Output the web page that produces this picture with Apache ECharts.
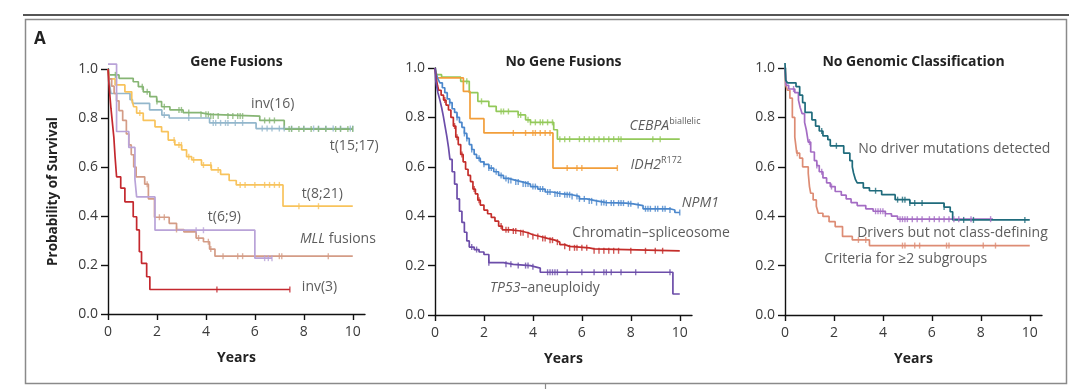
<!DOCTYPE html>
<html><head><meta charset="utf-8">
<script src="https://cdn.jsdelivr.net/npm/echarts@6/dist/echarts.min.js"></script>
<style>html,body{margin:0;padding:0;background:#fff}#c{width:1080px;height:389px}</style>
</head><body><div id="c"></div>
<script>
// ---------- tick labels ----------
const xTicks = [0, 2, 4, 6, 8, 10];
const yTicks = [0, 0.2, 0.4, 0.6, 0.8, 1.0];
const panelTitles = ['Gene Fusions', 'No Gene Fusions', 'No Genomic Classification'];

// ---------- Panel 1: Gene Fusions (step curves [years, survival]) ----------
const inv16 = [[0,1],[0.04,0.976],[0.45,0.962],[1.03,0.948],[1.24,0.928],[1.44,0.907],[1.71,0.887],[1.99,0.867],[2.19,0.846],[2.53,0.833],[3.07,0.822],[3.76,0.815],[4.16,0.808],[6.2,0.79],[7.2,0.755],[10,0.755]];
const inv16Cens = [0.3,1.4,1.6,2.0,2.3,2.9,3.0,3.3,3.8,4.0,4.1,4.2,4.3,4.5,4.9,5.1,5.3,5.4,5.5,6.4,6.6,6.8,7.4,7.5,7.8,8.0,8.3,8.6,8.9,9.3,9.5,9.8,10];
const t1517 = [[0,1],[0.05,0.95],[0.12,0.9],[0.9,0.875],[1.0,0.86],[1.7,0.833],[2.2,0.812],[2.5,0.8],[4.15,0.78],[6.05,0.757],[10,0.757]];
const t1517Cens = [2.3,3.3,4.3,4.4,4.6,4.8,4.9,5.2,5.5,6.3,6.5,6.7,7.0,7.2,7.5,8.0,8.4,8.6,8.9,9.2,9.5,9.9,10];
const t821 = [[0,1],[0.05,0.96],[0.29,0.935],[0.69,0.907],[0.97,0.875],[1.05,0.846],[1.17,0.82],[1.44,0.79],[1.92,0.764],[2.19,0.744],[2.46,0.71],[2.73,0.69],[3.01,0.67],[3.21,0.642],[3.42,0.629],[3.82,0.608],[4.22,0.588],[4.6,0.57],[4.95,0.545],[5.24,0.527],[7.15,0.44],[10,0.44]];
const t821Cens = [1.3,2.7,2.9,3.0,3.3,3.5,3.9,4.2,4.5,5.4,5.6,6.0,6.4,6.6,6.8,7.0,7.8,8.6];
const t69 = [[0,1.02],[0.35,0.745],[0.85,0.68],[1.1,0.55],[1.17,0.478],[1.92,0.342],[6.0,0.228],[6.7,0.228]];
const t69Cens = [3.6,3.9,6.4,6.55,6.7];
const mll = [[0,1],[0.05,0.96],[0.15,0.93],[0.25,0.9],[0.35,0.87],[0.45,0.83],[0.6,0.79],[0.75,0.735],[0.85,0.69],[0.95,0.65],[1.05,0.6],[1.15,0.56],[1.5,0.53],[1.65,0.47],[1.9,0.395],[2.5,0.37],[2.8,0.345],[3.1,0.335],[3.6,0.31],[3.9,0.295],[4.15,0.265],[4.37,0.236],[10,0.236]];
const mllCens = [1.6,2.1,2.3,2.8,3.7,4.1,4.2,4.7,5.3,5.5,7.0,7.1,9.0];
const inv3 = [[0,1],[0.03,0.95],[0.07,0.9],[0.12,0.84],[0.18,0.78],[0.24,0.72],[0.29,0.64],[0.35,0.56],[0.52,0.514],[0.69,0.458],[1.03,0.397],[1.17,0.343],[1.28,0.254],[1.37,0.207],[1.58,0.152],[1.71,0.1],[7.43,0.1]];
const inv3Cens = [4.45,7.43];

// ---------- Panel 2: No Gene Fusions ----------
const cebpa = [[0,1],[0.05,0.973],[0.27,0.963],[1.05,0.946],[1.4,0.9],[1.75,0.865],[2.2,0.845],[2.5,0.824],[3.4,0.81],[3.7,0.79],[3.9,0.78],[4.85,0.75],[5.0,0.712],[10,0.712]];
const cebpaCens = [1.3,1.9,2.7,2.8,3.0,3.4,3.5,3.8,3.9,4.1,4.3,4.4,4.6,4.8,5.1,5.3,5.5,5.9,6.1,6.3,6.5,6.7,6.9,7.1,7.3,7.5,7.6,8.9,9.2];
const idh2 = [[0,1],[0.05,0.96],[1.16,0.905],[1.43,0.795],[2.0,0.737],[4.82,0.595],[7.45,0.595]];
const idh2Cens = [3.2,3.7,4.0,4.1,4.3,4.5,4.7,5.4,5.8,6.0,7.45];
const npm1 = [[0,1],[0.05,0.98],[0.1,0.96],[0.15,0.95],[0.2,0.94],[0.3,0.92],[0.4,0.9],[0.5,0.875],[0.6,0.86],[0.7,0.835],[0.8,0.82],[0.9,0.8],[1.0,0.78],[1.1,0.76],[1.2,0.735],[1.3,0.715],[1.4,0.69],[1.5,0.67],[1.6,0.65],[1.7,0.635],[1.85,0.62],[2.0,0.61],[2.2,0.595],[2.4,0.58],[2.6,0.565],[2.8,0.553],[3.0,0.545],[3.3,0.538],[3.6,0.53],[3.9,0.52],[4.2,0.51],[4.5,0.498],[4.8,0.49],[5.2,0.487],[5.6,0.48],[5.9,0.47],[6.2,0.462],[6.6,0.455],[7.0,0.453],[7.8,0.45],[8.1,0.443],[8.5,0.43],[9.6,0.425],[9.8,0.415],[10,0.415]];
const npm1Cens = [0.6,0.9,1.2,1.3,1.5,1.8,2.0,2.2,2.3,2.5,2.7,2.9,3.0,3.1,3.3,3.4,3.6,3.7,3.8,4.0,4.1,4.3,4.4,4.6,4.7,4.9,5.0,5.1,5.3,5.4,5.5,5.6,5.8,5.9,6.1,6.3,6.4,6.6,6.8,6.9,7.0,7.2,7.3,7.5,7.6,7.7,7.9,8.0,8.3,8.6,8.7,8.8,9.0,9.1,9.3,9.4,9.6,10];
const chromatin = [[0,1],[0.05,0.96],[0.1,0.93],[0.15,0.91],[0.25,0.89],[0.35,0.87],[0.45,0.85],[0.55,0.83],[0.65,0.8],[0.75,0.765],[0.85,0.72],[0.95,0.69],[1.05,0.65],[1.15,0.62],[1.25,0.59],[1.35,0.565],[1.45,0.54],[1.55,0.51],[1.65,0.49],[1.75,0.465],[1.85,0.445],[2.0,0.425],[2.15,0.41],[2.3,0.395],[2.45,0.38],[2.6,0.36],[2.75,0.345],[3.1,0.34],[3.5,0.333],[3.8,0.325],[4.0,0.318],[4.3,0.31],[4.6,0.303],[4.9,0.295],[5.1,0.285],[5.3,0.278],[5.5,0.272],[6.3,0.268],[6.5,0.26],[10,0.26]];
const chromatinCens = [0.4,0.8,0.9,1.1,1.6,1.8,2.7,2.9,3.0,3.2,3.3,3.5,3.6,3.8,4.0,4.2,4.4,4.5,4.7,4.8,5.0,5.3,5.5,5.7,5.8,6.0,6.2,6.5,6.7,6.9,7.1,7.3,7.5,8.0,8.6,9.0,9.3];
const tp53 = [[0,1],[0.03,0.95],[0.07,0.925],[0.12,0.9],[0.2,0.87],[0.27,0.84],[0.34,0.805],[0.41,0.765],[0.48,0.725],[0.55,0.68],[0.61,0.63],[0.7,0.58],[0.8,0.53],[0.9,0.47],[1.0,0.42],[1.1,0.375],[1.2,0.335],[1.3,0.3],[1.4,0.275],[1.6,0.265],[1.8,0.255],[2.0,0.245],[2.2,0.212],[2.8,0.205],[3.2,0.2],[3.9,0.195],[4.1,0.19],[4.3,0.173],[9.72,0.085],[10,0.085]];
const tp53Cens = [1.5,1.7,2.2,2.9,3.1,3.4,3.7,3.8,4.0,4.6,4.7,4.8,4.9,5.0,5.4,6.0,6.5,6.9,7.0,7.2,7.6,8.2,9.6];

// ---------- Panel 3: No Genomic Classification ----------
const noDriver = [[0,1.02],[0.03,0.95],[0.1,0.94],[0.45,0.925],[0.6,0.89],[0.72,0.86],[0.82,0.82],[1.1,0.79],[1.25,0.765],[1.4,0.745],[1.55,0.725],[1.75,0.71],[1.85,0.685],[2.4,0.655],[2.65,0.625],[2.75,0.6],[2.8,0.575],[2.88,0.548],[2.95,0.535],[3.2,0.515],[3.45,0.503],[3.95,0.487],[4.5,0.467],[5.1,0.453],[6.5,0.437],[6.75,0.418],[6.85,0.385],[10,0.385]];
const noDriverCens = [1.5,2.1,3.7,4.6,4.8,4.9,5.1,5.3,5.6,6.5,7.3,7.7,9.8];
const driversNC = [[0,1],[0.05,0.93],[0.15,0.915],[0.4,0.9],[0.55,0.87],[0.62,0.84],[0.7,0.815],[0.8,0.78],[0.87,0.75],[0.95,0.7],[1.05,0.66],[1.2,0.625],[1.3,0.605],[1.4,0.58],[1.55,0.555],[1.7,0.535],[1.85,0.52],[2.05,0.5],[2.3,0.485],[2.5,0.47],[2.7,0.455],[2.95,0.443],[3.3,0.43],[3.6,0.42],[4.1,0.41],[4.35,0.4],[4.6,0.388],[8.5,0.388]];
const driversNCCens = [0.35,1.0,1.3,1.5,1.9,3.7,3.8,3.9,4.0,4.1,4.7,4.8,4.9,5.0,5.2,5.4,5.6,5.9,6.1,6.3,6.5,6.7,6.9,7.1,7.6,8.4];
const multi = [[0,1],[0.03,0.93],[0.1,0.91],[0.2,0.878],[0.3,0.8],[0.4,0.72],[0.48,0.655],[0.6,0.635],[0.72,0.6],[0.95,0.574],[1.0,0.52],[1.05,0.493],[1.15,0.466],[1.28,0.44],[1.36,0.412],[1.55,0.399],[1.8,0.378],[2.05,0.358],[2.35,0.318],[2.75,0.304],[3.45,0.281],[10,0.281]];
const multiCens = [0.5,3.0,3.3,4.8,4.9,5.3,5.5,6.6,6.7,8.1,8.6];

// ---------- label texts and anchors (data coords) ----------
const labels1 = [
  ['{n|inv(16)}', 5.84, 0.857], ['{n|t(15;17)}', 9.06, 0.686], ['{n|t(8;21)}', 7.92, 0.49],
  ['{n|t(6;9)}', 4.08, 0.396], ['{i|MLL}{n| fusions}', 7.84, 0.306], ['{n|inv(3)}', 7.92, 0.11]
];
const labels2 = [
  ['{i|CEBPA}{s|biallelic}', 7.95, 0.766], ['{i|IDH2}{s|R172}', 7.99, 0.608], ['{i|NPM1}', 10.08, 0.454],
  ['{n|Chromatin–spliceosome}', 5.61, 0.332], ['{i|TP53}{n|–aneuploidy}', 2.25, 0.109]
];
const labels3 = [
  ['{n|No driver mutations detected}', 2.99, 0.672], ['{n|Drivers but not class-defining}', 2.95, 0.332],
  ['{n|Criteria for ≥2 subgroups}', 1.6, 0.227]
];

const FONT = '"Open Sans", "Noto Sans", sans-serif';
const TXT = '#333';

function survAt(curve, t) {
  let s = curve[0][1];
  for (const p of curve) { if (p[0] <= t + 1e-9) s = p[1]; }
  return s;
}
function km(g, curve, cens, color) {
  return [
    { type: 'line', xAxisIndex: g, yAxisIndex: g, data: curve, step: 'end', symbol: 'none', showSymbol: false,
      lineStyle: { color: color, width: 1.7 }, clip: false, silent: true, animation: false, z: 2 },
    { type: 'scatter', xAxisIndex: g, yAxisIndex: g, data: cens.map(t => [t, survAt(curve, t)]),
      symbol: 'rect', symbolSize: [1.4, 6], itemStyle: { color: color }, clip: false, silent: true, animation: false, z: 3 }
  ];
}
const rich = {
  n: { fontSize: 14, color: TXT, fontFamily: FONT, lineHeight: 17 },
  i: { fontSize: 14, color: TXT, fontFamily: FONT, fontStyle: 'italic', lineHeight: 17 },
  s: { fontSize: 9, color: TXT, fontFamily: FONT, verticalAlign: 'top', lineHeight: 17, padding: [0, 0, 6, 0] }
};
function labelSeries(g, labels) {
  return { type: 'scatter', xAxisIndex: g, yAxisIndex: g, symbolSize: 0, clip: false, silent: true, animation: false,
    data: labels.map(l => ({ value: [l[1], l[2]], name: l[0] })),
    label: { show: true, position: 'right', distance: 0, formatter: p => p.name, rich: rich }, z: 5 };
}

const grids = [
  { left: 108, top: 69, width: 257, height: 245 },
  { left: 435, top: 68, width: 257, height: 247 },
  { left: 785, top: 68, width: 257, height: 247 }
];
const axisLineStyle = { color: '#111', width: 1.4 };
const xAxes = grids.map((g, i) => ({
  type: 'value', gridIndex: i, min: 0, max: 10.5,
  axisLine: { show: true, onZero: false, lineStyle: axisLineStyle },
  axisTick: { show: true, length: 6, lineStyle: axisLineStyle, customValues: xTicks },
  axisLabel: { customValues: xTicks, margin: 11, color: '#3a3a3a', fontSize: 14, fontFamily: FONT },
  splitLine: { show: false },
  name: 'Years', nameLocation: 'middle', nameGap: 37,
  nameTextStyle: { fontWeight: 'bold', fontSize: 14, color: '#222', fontFamily: FONT }
}));
const yAxes = grids.map((g, i) => ({
  type: 'value', gridIndex: i, min: 0, max: 1, interval: 0.2,
  axisLine: { show: true, onZero: false, lineStyle: axisLineStyle },
  axisTick: { show: true, length: 7, lineStyle: axisLineStyle },
  axisLabel: { margin: 10, color: '#3a3a3a', fontSize: 14, fontFamily: FONT, formatter: v => v.toFixed(1) },
  splitLine: { show: false },
  name: i === 0 ? 'Probability of Survival' : '', nameLocation: 'middle', nameGap: 48,
  nameTextStyle: { fontWeight: 'bold', fontSize: 13.5, color: '#222', fontFamily: FONT }
}));

const series = [].concat(
  km(0, t1517, t1517Cens, '#93B7CC'), km(0, inv16, inv16Cens, '#86B574'), km(0, t821, t821Cens, '#F8C35C'),
  km(0, mll, mllCens, '#D49C86'), km(0, t69, t69Cens, '#B9A3D8'), km(0, inv3, inv3Cens, '#C4282E'),
  km(1, cebpa, cebpaCens, '#93C95A'), km(1, idh2, idh2Cens, '#F29E3A'), km(1, npm1, npm1Cens, '#4B87CC'),
  km(1, chromatin, chromatinCens, '#C42D2A'), km(1, tp53, tp53Cens, '#6C4DA9'),
  km(2, multi, multiCens, '#DD8C74'), km(2, driversNC, driversNCCens, '#A46CC4'), km(2, noDriver, noDriverCens, '#1F6B7C'),
  [labelSeries(0, labels1), labelSeries(1, labels2), labelSeries(2, labels3)]
);

const centers = grids.map(g => g.left + g.width / 2);
const graphic = [
  { type: 'line', shape: { x1: 23, y1: 15, x2: 1069, y2: 15 }, style: { stroke: '#555', lineWidth: 2.2 }, silent: true },
  { type: 'rect', shape: { x: 25.5, y: 19.5, width: 1041, height: 364 }, style: { fill: 'none', stroke: '#8a8a8a', lineWidth: 1.5 }, silent: true },
  { type: 'line', shape: { x1: 545.5, y1: 383, x2: 545.5, y2: 389 }, style: { stroke: '#8a8a8a', lineWidth: 1.2 }, silent: true },
  { type: 'text', x: 34, y: 39, style: { text: 'A', font: 'bold 17px ' + FONT, fill: '#222', verticalAlign: 'middle' }, silent: true }
].concat(panelTitles.map((t, i) => ({
  type: 'text', x: centers[i], y: 62, silent: true,
  style: { text: t, font: 'bold 14px ' + FONT, fill: '#222', align: 'center', verticalAlign: 'middle' }
})));

const chart = echarts.init(document.getElementById('c'), null, { renderer: 'canvas' });
chart.setOption({ animation: false, backgroundColor: '#fff', grid: grids, xAxis: xAxes, yAxis: yAxes, series: series, graphic: graphic });
</script></body></html>
